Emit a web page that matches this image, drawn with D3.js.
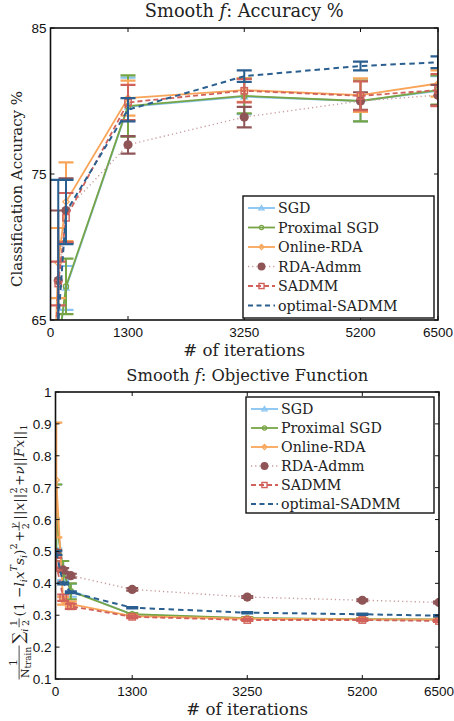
<!DOCTYPE html>
<html><head><meta charset="utf-8">
<script src="https://cdn.jsdelivr.net/npm/d3@7"></script>
<style>
body{margin:0;background:#fff;}
svg{display:block;}
</style></head><body>
<svg id="chart" width="454" height="721"></svg>
<script>
// iteration counts at which each method was evaluated
const iterations = [13, 130, 260, 1300, 3250, 5200, 6500];
const xTickValues = [0, 1300, 3250, 5200, 6500];
const seriesNames = ["SGD", "Proximal SGD", "Online-RDA", "RDA-Admm", "SADMM", "optimal-SADMM"];

// classification accuracy (%) and its spread
const accSGD        = [59.5, 63.0, 67.2, 79.6, 80.3, 80.0, 80.7];
const accSGDErr     = [2.0, 1.5, 1.5, 2.0, 1.2, 1.4, 1.0];
const accProx       = [59.8, 63.2, 67.3, 79.65, 80.35, 80.0, 80.75];
const accProxErr    = [2.0, 1.5, 1.9, 2.1, 1.2, 1.4, 1.0];
const accRDA        = [56.0, 68.9, 73.1, 80.2, 80.75, 80.4, 81.2];
const accRDAErr     = [2.5, 2.4, 2.7, 1.2, 0.8, 1.15, 0.9];
const accRDAAdmm    = [56.5, 67.7, 72.5, 77.0, 78.9, 80.0, 80.4];
const accRDAAdmmErr = [2.5, 4.8, 2.2, 0.6, 0.7, 0.6, 0.7];
const accSADMM      = [57.0, 67.5, 72.0, 79.9, 80.7, 80.35, 80.75];
const accSADMMErr   = [2.0, 1.5, 1.7, 1.2, 0.8, 1.0, 1.1];
const accOpt        = [56.0, 64.8, 72.4, 79.4, 81.7, 82.4, 82.65];
const accOptErr     = [3.0, 9.8, 2.2, 0.8, 0.4, 0.3, 0.4];
const accTicks = [65, 75, 85];

// training objective value and its spread
const objSGD        = [0.61, 0.44, 0.378, 0.302, 0.290, 0.287, 0.286];
const objSGDErr     = [0.10, 0.03, 0.02, 0.004, 0.003, 0.003, 0.003];
const objProx       = [0.60, 0.435, 0.375, 0.303, 0.291, 0.288, 0.287];
const objProxErr    = [0.11, 0.035, 0.025, 0.004, 0.003, 0.003, 0.003];
const objRDA        = [0.724, 0.345, 0.335, 0.297, 0.289, 0.287, 0.286];
const objRDAErr     = [0.18, 0.012, 0.008, 0.004, 0.003, 0.003, 0.003];
const objRDAAdmm    = [0.496, 0.442, 0.424, 0.381, 0.357, 0.347, 0.340];
const objRDAAdmmErr = [0.008, 0.006, 0.006, 0.004, 0.003, 0.003, 0.003];
const objSADMM      = [0.46, 0.355, 0.328, 0.295, 0.285, 0.285, 0.282];
const objSADMMErr   = [0.02, 0.01, 0.008, 0.004, 0.003, 0.003, 0.003];
const objOpt        = [0.495, 0.40, 0.372, 0.3235, 0.308, 0.303, 0.2985];
const objOptErr     = [0.006, 0.003, 0.003, 0.002, 0.002, 0.002, 0.002];
const objTicks = [0.1, 0.2, 0.3, 0.4, 0.5, 0.6, 0.7, 0.8, 0.9, 1];

const styles = [
  {color: "#86c3f2", dash: null, width: 1.8, marker: "triangle"},
  {color: "#77a545", dash: null, width: 1.8, marker: "circle"},
  {color: "#f9a559", dash: null, width: 1.8, marker: "diamond"},
  {color: "#8f5456", line: "#c79a9b", dash: "1.2,3", width: 1.4, marker: "dot"},
  {color: "#d1625b", dash: "5,3", width: 1.8, marker: "square"},
  {color: "#2a5f90", dash: "5.5,4", width: 2, marker: null}
];

const SERIF = "'DejaVu Serif', serif";
const SANS = "'Liberation Sans', Arial, sans-serif";
const svg = d3.select("#chart");

// scale a text element's font so its width equals the given length
function fitWidth(sel, width) {
  const fs = parseFloat(sel.attr("font-size"));
  const w = sel.node().getComputedTextLength();
  sel.attr("font-size", fs * width / w);
  return sel;
}

function drawMarker(g, type, cx, cy, color, scale) {
  const k = scale || 1;
  if (type === "triangle") {
    const r = 3.2 * k;
    g.append("path").attr("d", `M${cx},${cy - r}L${cx + r},${cy + r * 0.7}L${cx - r},${cy + r * 0.7}Z`)
      .attr("fill", "none").attr("stroke", color).attr("stroke-width", 1.2);
  } else if (type === "circle") {
    g.append("circle").attr("cx", cx).attr("cy", cy).attr("r", 2.6 * k)
      .attr("fill", "none").attr("stroke", color).attr("stroke-width", 1.2);
  } else if (type === "diamond") {
    const r = 3.2 * k;
    g.append("path").attr("d", `M${cx},${cy - r}L${cx + r},${cy}L${cx},${cy + r}L${cx - r},${cy}Z`)
      .attr("fill", "none").attr("stroke", color).attr("stroke-width", 1.2);
  } else if (type === "dot") {
    g.append("circle").attr("cx", cx).attr("cy", cy).attr("r", 4.6 * k).attr("fill", color);
  } else if (type === "square") {
    const r = 3.2 * k;
    g.append("rect").attr("x", cx - r).attr("y", cy - r).attr("width", 2 * r).attr("height", 2 * r)
      .attr("fill", "none").attr("stroke", color).attr("stroke-width", 1.4);
  }
}

function drawPanel(cfg) {
  const x = d3.scaleLinear().domain([0, 6500]).range([cfg.left, cfg.right]);
  const y = d3.scaleLinear().domain(cfg.yDomain).range([cfg.bottom, cfg.top]);
  const g = svg.append("g");

  const clipId = "clip" + cfg.id;
  svg.append("clipPath").attr("id", clipId).append("rect")
    .attr("x", cfg.left).attr("y", cfg.top)
    .attr("width", cfg.right - cfg.left).attr("height", cfg.bottom - cfg.top);
  const plot = g.append("g").attr("clip-path", `url(#${clipId})`);

  cfg.series.forEach((s, si) => {
    const st = styles[si];
    const sg = plot.append("g");
    // error bars
    iterations.forEach((it, i) => {
      const cx = x(it), lo = y(s.v[i] - s.e[i]), hi = y(s.v[i] + s.e[i]);
      sg.append("line").attr("x1", cx).attr("x2", cx).attr("y1", lo).attr("y2", hi)
        .attr("stroke", st.color).attr("stroke-width", 2);
      [lo, hi].forEach(yy => sg.append("line").attr("x1", cx - cfg.cap).attr("x2", cx + cfg.cap)
        .attr("y1", yy).attr("y2", yy).attr("stroke", st.color).attr("stroke-width", 2.2));
    });
    // connecting line
    const line = d3.line().x((d, i) => x(iterations[i])).y(d => y(d));
    sg.append("path").datum(s.v).attr("d", line).attr("fill", "none")
      .attr("stroke", st.line || st.color).attr("stroke-width", st.width)
      .attr("stroke-dasharray", st.dash);
    if (st.marker) s.v.forEach((v, i) => drawMarker(sg, st.marker, x(iterations[i]), y(v), st.color));
  });

  // frame
  g.append("rect").attr("x", cfg.left).attr("y", cfg.top)
    .attr("width", cfg.right - cfg.left).attr("height", cfg.bottom - cfg.top)
    .attr("fill", "none").attr("stroke", "#111").attr("stroke-width", 1.6);

  // inward ticks on all four sides
  const tk = 4;
  xTickValues.forEach(v => {
    const xx = x(v);
    g.append("line").attr("x1", xx).attr("x2", xx).attr("y1", cfg.bottom).attr("y2", cfg.bottom - tk).attr("stroke", "#111");
    g.append("line").attr("x1", xx).attr("x2", xx).attr("y1", cfg.top).attr("y2", cfg.top + tk).attr("stroke", "#111");
    g.append("text").attr("x", xx).attr("y", cfg.bottom + 17).attr("text-anchor", "middle")
      .attr("font-family", SANS).attr("font-size", 13.5).attr("fill", "#111").text(v);
  });
  cfg.yTicks.forEach(v => {
    const yy = y(v);
    g.append("line").attr("x1", cfg.left).attr("x2", cfg.left + tk).attr("y1", yy).attr("y2", yy).attr("stroke", "#111");
    g.append("line").attr("x1", cfg.right).attr("x2", cfg.right - tk).attr("y1", yy).attr("y2", yy).attr("stroke", "#111");
    g.append("text").attr("x", cfg.left - 4).attr("y", yy + 5).attr("text-anchor", "end")
      .attr("font-family", SANS).attr("font-size", 13.5).attr("fill", "#111").text(cfg.yFmt(v));
  });

  // title and x label
  const title = g.append("text").attr("x", (cfg.left + cfg.right) / 2).attr("y", cfg.top - 11)
    .attr("text-anchor", "middle").attr("font-family", SERIF).attr("font-size", 17).attr("fill", "#222");
  title.append("tspan").text("Smooth ");
  title.append("tspan").attr("font-style", "italic").text("f");
  title.append("tspan").text(": " + cfg.title);
  fitWidth(title, cfg.titleWidth);
  const xl = g.append("text").attr("x", (cfg.left + cfg.right) / 2).attr("y", cfg.bottom + 35.5)
    .attr("text-anchor", "middle").attr("font-family", SERIF).attr("font-size", 17).attr("fill", "#222")
    .text("# of iterations");
  fitWidth(xl, 122);

  // legend
  const L = cfg.legend;
  const lg = g.append("g");
  lg.append("rect").attr("x", L.x).attr("y", L.y).attr("width", L.w).attr("height", L.h)
    .attr("fill", "#fff").attr("stroke", "#111").attr("stroke-width", 1.4);
  seriesNames.forEach((name, i) => {
    const st = styles[i];
    const yy = L.y + 12 + i * L.step;
    lg.append("line").attr("x1", L.x + 5).attr("x2", L.x + 32).attr("y1", yy).attr("y2", yy)
      .attr("stroke", st.line || st.color).attr("stroke-width", st.width)
      .attr("stroke-dasharray", st.dash ? (i === 5 ? "5,3.5" : st.dash) : null);
    if (st.marker) drawMarker(lg, st.marker, L.x + 18.5, yy, st.color, st.marker === "dot" ? 0.85 : 0.8);
    lg.append("text").attr("x", L.x + 35).attr("y", yy + 5).attr("font-family", SERIF)
      .attr("font-size", 14.2).attr("fill", "#222").text(name);
  });
  return g;
}

// Upper panel: accuracy
drawPanel({
  id: "acc", left: 50.5, right: 438, top: 28, bottom: 320, cap: 7.5,
  yDomain: [65, 85], yTicks: accTicks, yFmt: d => d, title: "Accuracy %", titleWidth: 199,
  series: [
    {v: accSGD, e: accSGDErr}, {v: accProx, e: accProxErr}, {v: accRDA, e: accRDAErr},
    {v: accRDAAdmm, e: accRDAAdmmErr}, {v: accSADMM, e: accSADMMErr}, {v: accOpt, e: accOptErr}
  ],
  legend: {x: 243, y: 196, w: 191, h: 122, step: 19.5}
});
fitWidth(svg.append("text").attr("transform", "translate(22,189) rotate(-90)").attr("text-anchor", "middle")
  .attr("font-family", SERIF).attr("font-size", 16).attr("fill", "#222").text("Classification Accuracy %"), 196);

// Lower panel: objective value
drawPanel({
  id: "obj", left: 55.5, right: 439, top: 392, bottom: 679, cap: 6,
  yDomain: [0.1, 1], yTicks: objTicks, yFmt: d => d === 1 ? "1" : d3.format(".1f")(d),
  title: "Objective Function", titleWidth: 242,
  series: [
    {v: objSGD, e: objSGDErr}, {v: objProx, e: objProxErr}, {v: objRDA, e: objRDAErr},
    {v: objRDAAdmm, e: objRDAAdmmErr}, {v: objSADMM, e: objSADMMErr}, {v: objOpt, e: objOptErr}
  ],
  legend: {x: 246, y: 397, w: 188, h: 116, step: 19}
});

// Rotated formula label for the objective axis
(function () {
  const g = svg.append("g").attr("font-family", SERIF).attr("fill", "#222");
  const inner = g.append("g");
  let cx = 0;
  const S = 10, s = 7;
  function txt(t, opt) {
    opt = opt || {};
    const el = inner.append("text").attr("x", cx).attr("y", opt.dy || 0)
      .attr("font-size", opt.size || S).attr("font-style", opt.it ? "italic" : null).text(t);
    const w = el.node().getComputedTextLength();
    if (!opt.stay) cx += w + (opt.gap || 0);
    return w;
  }
  function frac(num, den, size) {
    const a = inner.append("text").attr("font-size", size).attr("text-anchor", "middle").text(num[0])
      .attr("font-style", num[1] ? "italic" : null);
    const b = inner.append("text").attr("font-size", size).attr("text-anchor", "middle");
    den.forEach(p => b.append("tspan").text(p[0]).attr("font-size", p[1] || size)
      .attr("font-style", p[2] ? "italic" : null).attr("dy", p[3] || 0));
    const w = Math.max(a.node().getComputedTextLength(), b.node().getComputedTextLength()) + 2;
    a.attr("x", cx + w / 2).attr("y", -5.3);
    b.attr("x", cx + w / 2).attr("y", 3.6);
    inner.append("line").attr("x1", cx).attr("x2", cx + w).attr("y1", -3.6).attr("y2", -3.6)
      .attr("stroke", "#222").attr("stroke-width", 0.6);
    cx += w + 1.5;
  }
  frac(["1"], [["N", 8], ["train", 6.5, false, 1.8]], 8);
  txt("\u2211", {size: 12});
  txt("i", {size: s, it: true, dy: 3, gap: 1});
  frac(["1"], [["2"]], s);
  txt("(1 \u2212 ");
  txt("l", {it: true}); txt("i", {size: s, it: true, dy: 2.5});
  txt("x", {it: true}); txt("T", {size: s, it: true, dy: -5});
  txt("s", {it: true}); txt("i", {size: s, it: true, dy: 2.5});
  txt(")"); txt("2", {size: s, dy: -5, gap: 1});
  txt(" + ");
  frac(["\u03b3", true], [["2"]], s);
  txt("||"); txt("x", {it: true}); txt("||");
  txt("2", {size: s, dy: 2.5, stay: true}); txt("2", {size: s, dy: -5, gap: 1});
  txt(" + "); txt("\u03bd", {it: true}); txt("||");
  txt("F", {it: true}); txt("x", {it: true}); txt("||");
  txt("1", {size: s, dy: 2.5});
  const total = cx;
  const target = 255, k = target / total;
  g.attr("transform", `translate(${9 + 11 * k},${552 + target / 2}) rotate(-90) scale(${k})`);
})();
</script>
</body></html>
